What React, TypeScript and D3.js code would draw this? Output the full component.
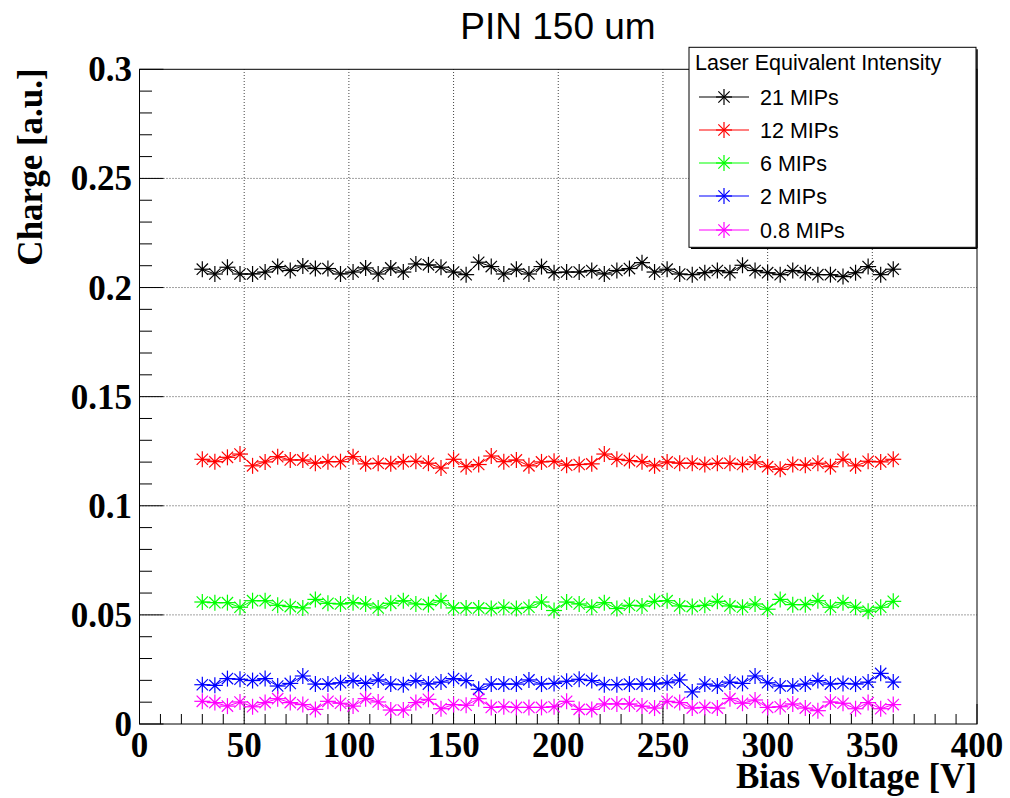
import React from "react";
import * as d3 from "d3";

const voltages = [30, 36, 42, 48, 54, 60, 66, 72, 78, 84, 90, 96, 102, 108, 114, 120, 126, 132, 138, 144, 150, 156, 162, 168, 174, 180, 186, 192, 198, 204, 210, 216, 222, 228, 234, 240, 246, 252, 258, 264, 270, 276, 282, 288, 294, 300, 306, 312, 318, 324, 330, 336, 342, 348, 354, 360];

const mip21 = [0.2084, 0.2062, 0.2093, 0.2062, 0.2062, 0.2071, 0.2096, 0.2078, 0.2099, 0.2087, 0.2087, 0.2062, 0.2071, 0.2090, 0.2062, 0.2090, 0.2071, 0.2108, 0.2104, 0.2093, 0.2071, 0.2059, 0.2116, 0.2096, 0.2062, 0.2084, 0.2062, 0.2096, 0.2068, 0.2071, 0.2071, 0.2078, 0.2062, 0.2078, 0.2087, 0.2114, 0.2071, 0.2084, 0.2062, 0.2059, 0.2068, 0.2078, 0.2068, 0.2102, 0.2078, 0.2068, 0.2059, 0.2078, 0.2068, 0.2059, 0.2059, 0.2050, 0.2068, 0.2096, 0.2059, 0.2084];
const mip12 = [0.1213, 0.1202, 0.1222, 0.1237, 0.1183, 0.1201, 0.1225, 0.1210, 0.1210, 0.1195, 0.1202, 0.1202, 0.1225, 0.1192, 0.1195, 0.1192, 0.1202, 0.1204, 0.1195, 0.1173, 0.1213, 0.1179, 0.1189, 0.1228, 0.1202, 0.1210, 0.1183, 0.1201, 0.1204, 0.1186, 0.1189, 0.1192, 0.1237, 0.1213, 0.1207, 0.1202, 0.1183, 0.1201, 0.1195, 0.1195, 0.1189, 0.1195, 0.1195, 0.1189, 0.1201, 0.1179, 0.1167, 0.1189, 0.1186, 0.1195, 0.1179, 0.1213, 0.1183, 0.1204, 0.1201, 0.1213];
const mip6 = [0.0559, 0.0556, 0.0556, 0.0535, 0.0565, 0.0565, 0.0544, 0.0538, 0.0532, 0.0571, 0.0553, 0.0550, 0.0556, 0.0550, 0.0532, 0.0553, 0.0565, 0.0550, 0.0547, 0.0565, 0.0532, 0.0532, 0.0532, 0.0529, 0.0535, 0.0529, 0.0535, 0.0559, 0.0520, 0.0559, 0.0550, 0.0535, 0.0556, 0.0529, 0.0544, 0.0541, 0.0562, 0.0565, 0.0541, 0.0538, 0.0544, 0.0562, 0.0541, 0.0535, 0.0550, 0.0526, 0.0571, 0.0547, 0.0547, 0.0565, 0.0535, 0.0556, 0.0535, 0.0517, 0.0535, 0.0562];
const mip2 = [0.0180, 0.0177, 0.0208, 0.0205, 0.0199, 0.0208, 0.0174, 0.0186, 0.0220, 0.0183, 0.0183, 0.0189, 0.0199, 0.0186, 0.0202, 0.0183, 0.0180, 0.0199, 0.0183, 0.0192, 0.0208, 0.0199, 0.0159, 0.0183, 0.0183, 0.0183, 0.0202, 0.0183, 0.0186, 0.0196, 0.0205, 0.0199, 0.0180, 0.0180, 0.0183, 0.0183, 0.0183, 0.0189, 0.0202, 0.0147, 0.0183, 0.0174, 0.0192, 0.0186, 0.0220, 0.0189, 0.0174, 0.0174, 0.0183, 0.0199, 0.0183, 0.0186, 0.0183, 0.0192, 0.0232, 0.0192];
const mip08 = [0.0104, 0.0098, 0.0082, 0.0101, 0.0079, 0.0098, 0.0116, 0.0098, 0.0089, 0.0067, 0.0104, 0.0095, 0.0082, 0.0116, 0.0101, 0.0064, 0.0064, 0.0098, 0.0113, 0.0070, 0.0089, 0.0086, 0.0116, 0.0076, 0.0079, 0.0076, 0.0076, 0.0076, 0.0079, 0.0104, 0.0067, 0.0067, 0.0092, 0.0092, 0.0092, 0.0082, 0.0073, 0.0104, 0.0098, 0.0073, 0.0076, 0.0073, 0.0116, 0.0095, 0.0110, 0.0076, 0.0079, 0.0092, 0.0073, 0.0061, 0.0101, 0.0095, 0.0070, 0.0098, 0.0070, 0.0089];

const seriesNames = ["21 MIPs", "12 MIPs", "6 MIPs", "2 MIPs", "0.8 MIPs"];
const seriesValues = [mip21, mip12, mip6, mip2, mip08];
const seriesColors = ["#000000", "#ff0000", "#00ff00", "#0000ff", "#ff00ff"];

const xTicks = [0, 50, 100, 150, 200, 250, 300, 350, 400];
const yTicks = [0, 0.05, 0.1, 0.15, 0.2, 0.25, 0.3];
const yTickLabels = ["0", "0.05", "0.1", "0.15", "0.2", "0.25", "0.3"];

const W = 1010;
const H = 798;
const L = 139.5, R = 977, T = 69.3, B = 724;

const serif = "'Liberation Serif', 'Times New Roman', serif";
const sans = "'Liberation Sans', Arial, sans-serif";

function Star({ cx, cy, color, s }: { cx: number; cy: number; color: string; s: number }) {
  const d = s * 0.7071;
  return (
    <g stroke={color} strokeWidth={1.2}>
      <line x1={cx - s} y1={cy} x2={cx + s} y2={cy} />
      <line x1={cx} y1={cy - s} x2={cx} y2={cy + s} />
      <line x1={cx - d} y1={cy - d} x2={cx + d} y2={cy + d} />
      <line x1={cx - d} y1={cy + d} x2={cx + d} y2={cy - d} />
    </g>
  );
}

export default function App() {
  const x = d3.scaleLinear().domain([0, 400]).range([L, R]);
  const y = d3.scaleLinear().domain([0, 0.3]).range([B, T]);
  const line = d3
    .line<number>()
    .x((_, i) => x(voltages[i]))
    .y((v) => y(v));

  const xMinor = d3.range(0, 401, 10);
  const yMinor = d3.range(0, 0.3001, 0.01);

  const legX = 689, legY = 47.3, legW = 287, legH = 200;
  const entryY = [97, 130, 163, 196, 230];

  return (
    <svg width={W} height={H} style={{ position: "absolute", left: 0, top: 0, background: "#fff" }}>
      <rect x={0} y={0} width={W} height={H} fill="#fff" />
      {/* grid */}
      {xTicks.slice(1, -1).map((t) => (
        <line key={"gx" + t} x1={x(t)} x2={x(t)} y1={B} y2={T} stroke="#444" strokeDasharray="1 2" strokeWidth={1} />
      ))}
      {yTicks.slice(1, -1).map((t) => (
        <line key={"gy" + t} x1={L} x2={R} y1={y(t)} y2={y(t)} stroke="#444" strokeDasharray="1 2" strokeWidth={1} />
      ))}
      {/* ticks */}
      {xMinor.map((t) => {
        const major = Math.abs(t % 50) < 1e-6;
        return <line key={"tx" + t} x1={x(t)} x2={x(t)} y1={B} y2={B - (major ? 20 : 10)} stroke="#000" strokeWidth={1} />;
      })}
      {yMinor.map((t, i) => {
        const major = i % 5 === 0;
        return <line key={"ty" + i} x1={L} x2={L + (major ? 24 : 12.5)} y1={y(t)} y2={y(t)} stroke="#000" strokeWidth={1} />;
      })}
      {/* frame */}
      <rect x={L} y={T} width={R - L} height={B - T} fill="none" stroke="#000" strokeWidth={1} />
      {/* series */}
      {seriesValues.map((vals, si) => (
        <g key={"s" + si}>
          <path d={line(vals) || ""} fill="none" stroke={seriesColors[si]} strokeWidth={1} />
          {vals.map((v, i) => (
            <g key={i}>
              <Star cx={x(voltages[i])} cy={y(v)} color={seriesColors[si]} s={8} />
              <circle cx={x(voltages[i])} cy={y(v)} r={1.6} fill={seriesColors[si]} />
            </g>
          ))}
        </g>
      ))}
      {/* axis labels */}
      {xTicks.map((t) => (
        <text key={"lx" + t} x={x(t)} y={757} textAnchor="middle" fontFamily={serif} fontWeight="bold" fontSize={35}>
          {t}
        </text>
      ))}
      {yTicks.map((t, i) => (
        <text key={"ly" + i} x={132} y={y(t) + 12} textAnchor="end" fontFamily={serif} fontWeight="bold" fontSize={35}>
          {yTickLabels[i]}
        </text>
      ))}
      <text x={R} y={788} textAnchor="end" fontFamily={serif} fontWeight="bold" fontSize={35}>
        Bias Voltage [V]
      </text>
      <text transform={`translate(42, ${T - 1}) rotate(-90)`} textAnchor="end" fontFamily={serif} fontWeight="bold" fontSize={35}>
        Charge [a.u.]
      </text>
      {/* title */}
      <text x={558} y={39} textAnchor="middle" fontFamily={sans} fontSize={37}>
        PIN 150 um
      </text>
      {/* legend */}
      <rect x={legX} y={legY} width={legW} height={legH} fill="#fff" stroke="#000" strokeWidth={1} />
      <line x1={legX + 2} y1={legY + legH + 1} x2={legX + legW + 1} y2={legY + legH + 1} stroke="#000" strokeWidth={1.5} />
      <line x1={legX + legW + 1} y1={legY + 2} x2={legX + legW + 1} y2={legY + legH + 1} stroke="#000" strokeWidth={1.5} />
      <text x={695} y={70} fontFamily={sans} fontSize={21.5}>
        Laser Equivalent Intensity
      </text>
      {seriesNames.map((n, i) => (
        <g key={"lg" + i}>
          <line x1={699} x2={749} y1={entryY[i]} y2={entryY[i]} stroke={seriesColors[i]} strokeWidth={1.2} />
          <Star cx={724} cy={entryY[i]} color={seriesColors[i]} s={8} />
          <text x={760} y={entryY[i] + 7.5} fontFamily={sans} fontSize={21.5}>
            {n}
          </text>
        </g>
      ))}
    </svg>
  );
}
